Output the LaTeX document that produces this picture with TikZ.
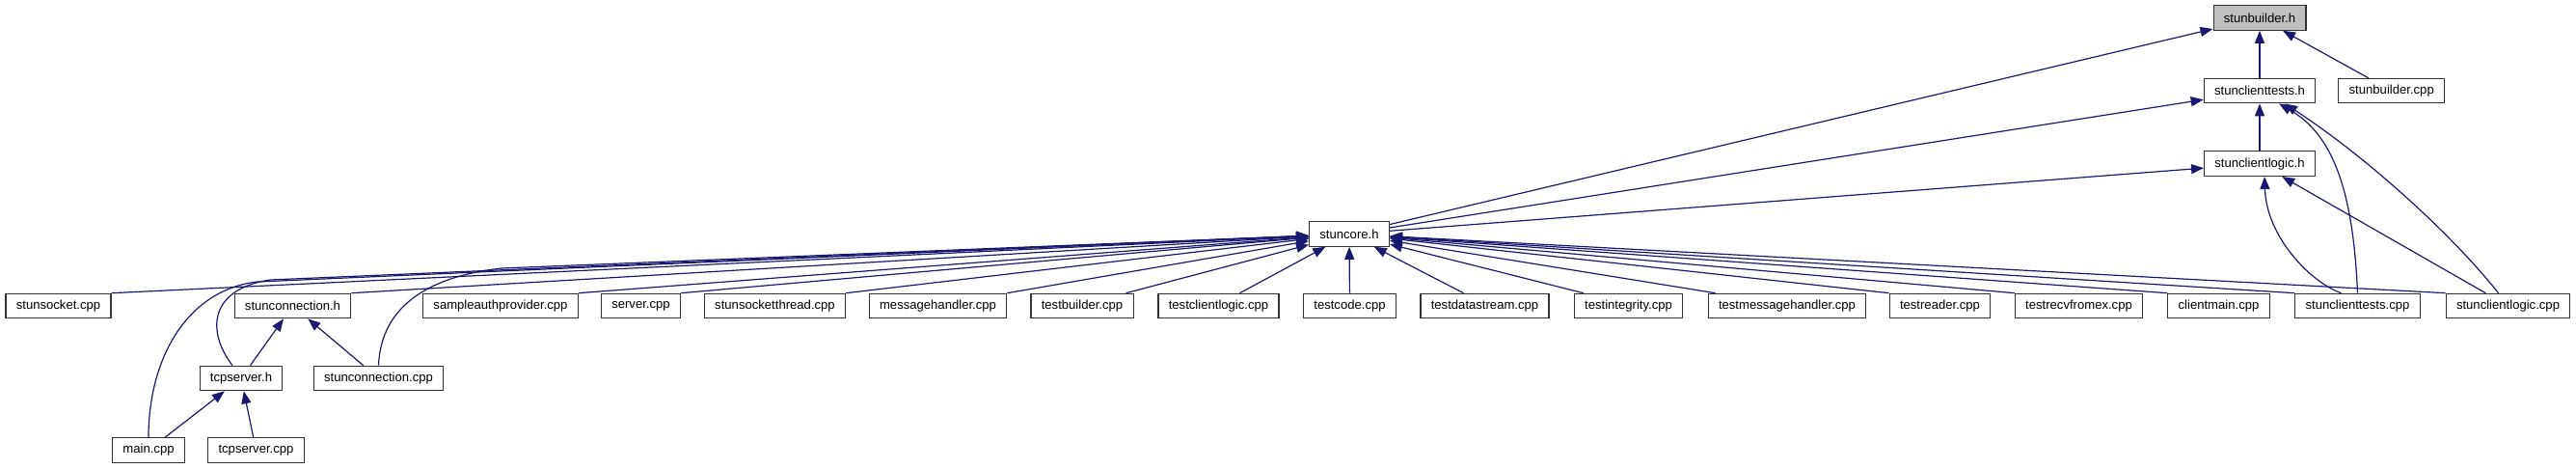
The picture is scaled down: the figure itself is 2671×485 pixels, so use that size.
\documentclass[tikz,border=0pt]{standalone}
\usepackage{fontspec}
\setmainfont{Liberation Sans}
\usepackage{tikz}
\usetikzlibrary{positioning,arrows.meta,calc}

\definecolor{edgeblue}{RGB}{25,25,112}
\definecolor{rootgray}{RGB}{191,191,191}

\begin{document}
\begin{tikzpicture}[
  x=1pt, y=1pt,
  font=\fontsize{13.1}{15}\selectfont,
  filebox/.style={draw=black!80, line width=1.1pt, fill=white, minimum height=25.5pt, inner xsep=10.8pt, inner ysep=0pt},
  rootbox/.style={filebox, fill=rootgray},
  dep/.style={-{Triangle[length=13pt,width=10pt]}, line width=1.2pt, draw=edgeblue}
]
\useasboundingbox (0,0) rectangle (2671,485);

% ========== TOP: stunbuilder.h and its direct includers ==========
\node[rootbox] (stunbuilderh) at (2343,466.5) {stunbuilder.h};
\node[filebox, below=49pt of stunbuilderh] (stunclienttestsh) {stunclienttests.h};
\node[filebox, right=23pt of stunclienttestsh] (stunbuildercpp) {stunbuilder.cpp};
\node[filebox, below=49pt of stunclienttestsh] (stunclientlogich) {stunclientlogic.h};

% ========== MIDDLE: stuncore.h ==========
\node[filebox] (stuncoreh) at (1399,242.5) {stuncore.h};

% ========== ROW: files including stuncore.h ==========
\node[filebox] (stunsocketcpp) at (60.5,168) {stunsocket.cpp};
\node[filebox] (stunconnectionh) at (303.5,168) {stunconnection.h};
\node[filebox] (sampleauthprovidercpp) at (519,168) {sampleauthprovider.cpp};
\node[filebox] (servercpp) at (664.5,168) {server.cpp};
\node[filebox] (stunsocketthreadcpp) at (803.5,168) {stunsocketthread.cpp};
\node[filebox] (messagehandlercpp) at (972.5,168) {messagehandler.cpp};
\node[filebox] (testbuildercpp) at (1122,168) {testbuilder.cpp};
\node[filebox] (testclientlogiccpp) at (1263.5,168) {testclientlogic.cpp};
\node[filebox] (testcodecpp) at (1399.5,168) {testcode.cpp};
\node[filebox] (testdatastreamcpp) at (1539.5,168) {testdatastream.cpp};
\node[filebox] (testintegritycpp) at (1688.5,168) {testintegrity.cpp};
\node[filebox] (testmessagehandlercpp) at (1853,168) {testmessagehandler.cpp};
\node[filebox] (testreadercpp) at (2011.5,168) {testreader.cpp};
\node[filebox] (testrecvfromexcpp) at (2155.5,168) {testrecvfromex.cpp};
\node[filebox] (clientmaincpp) at (2300.5,168) {clientmain.cpp};
\node[filebox] (stunclienttestscpp) at (2444.5,168) {stunclienttests.cpp};
\node[filebox] (stunclientlogiccpp) at (2600.5,168) {stunclientlogic.cpp};

% ========== LOWER LEFT: tcp server ==========
\node[filebox] (tcpserverh) at (250,93) {tcpserver.h};
\node[filebox] (stunconnectioncpp) at (392.5,93) {stunconnection.cpp};
\node[filebox] (maincpp) at (154,18.5) {main.cpp};
\node[filebox] (tcpservercpp) at (265.5,18.5) {tcpserver.cpp};

% -----------------------------
% Edges into stunbuilder.h / stunclienttests.h / stunclientlogic.h
% -----------------------------
\draw[dep] (stuncoreh) -- (stunbuilderh);
\draw[dep] (stunclienttestsh) -- (stunbuilderh);
\draw[dep] (stunbuildercpp) -- (stunbuilderh);
\draw[dep] (stuncoreh) -- (stunclienttestsh);
\draw[dep] (stunclientlogich) -- (stunclienttestsh);
\draw[dep] (stuncoreh) -- (stunclientlogich);
\draw[dep] (stunclientlogiccpp) -- (stunclientlogich);
\draw[dep] ([xshift=-17pt]stunclienttestscpp.north) .. controls (2395,193) and (2350,240) .. ([xshift=5pt]stunclientlogich.south);
\draw[dep] (stunclienttestscpp.north) .. controls (2440,285) and (2420,345) .. ([xshift=20pt]stunclienttestsh.south);
\draw[dep] ([xshift=-10pt]stunclientlogiccpp.north) .. controls (2540,245) and (2450,325) .. ([xshift=26pt]stunclienttestsh.south);

% -----------------------------
% Edges into stuncore.h (from the tops of the boxes)
% -----------------------------
\draw[dep] (stunsocketcpp.north east) -- (stuncoreh);
\draw[dep] (stunconnectionh.north east) -- (stuncoreh);
\draw[dep] (sampleauthprovidercpp.north east) -- (stuncoreh);
\draw[dep] (servercpp.north east) -- (stuncoreh);
\draw[dep] (stunsocketthreadcpp.north east) -- (stuncoreh);
\draw[dep] (messagehandlercpp.north east) -- (stuncoreh);
\draw[dep] ([xshift=-8pt]testbuildercpp.north east) -- (stuncoreh);
\draw[dep] ([xshift=22pt]testclientlogiccpp.north) -- (stuncoreh);
\draw[dep] (testcodecpp) -- (stuncoreh);
\draw[dep] ([xshift=-22pt]testdatastreamcpp.north) -- (stuncoreh);
\draw[dep] ([xshift=10pt]testintegritycpp.north west) -- (stuncoreh);
\draw[dep] ([xshift=8pt]testmessagehandlercpp.north west) -- (stuncoreh);
\draw[dep] (testreadercpp.north west) -- (stuncoreh);
\draw[dep] (testrecvfromexcpp.north west) -- (stuncoreh);
\draw[dep] (clientmaincpp.north west) -- (stuncoreh);
\draw[dep] (stunclienttestscpp.north west) -- (stuncoreh);
\draw[dep] (stunclientlogiccpp.north west) -- (stuncoreh);

% curved ones from below
\draw[dep] (maincpp.north) .. controls (154,115) and (195,185) .. (267,193) -- (stuncoreh);
\draw[dep] ([xshift=-9pt]tcpserverh.north) .. controls (215,140) and (215,185) .. (280,195) -- (stuncoreh);
\draw[dep] (stunconnectioncpp.north) .. controls (395,165) and (440,198) .. (520,207) -- (stuncoreh);

% -----------------------------
% Edges in the tcp server part
% -----------------------------
\draw[dep] (tcpserverh) -- (stunconnectionh);
\draw[dep] (stunconnectioncpp) -- (stunconnectionh);
\draw[dep] (maincpp) -- (tcpserverh);
\draw[dep] (tcpservercpp) -- (tcpserverh);

\end{tikzpicture}
\end{document}
